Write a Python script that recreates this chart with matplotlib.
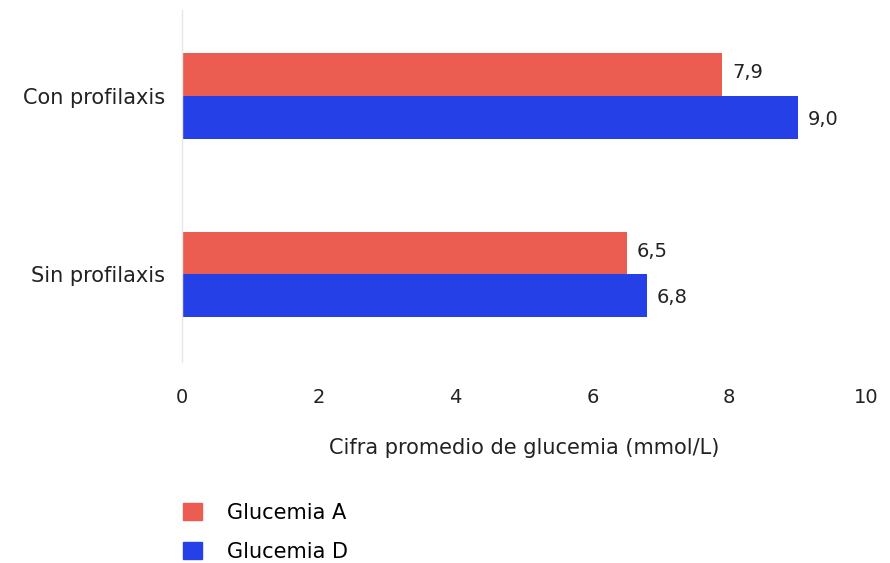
import numpy as np
import matplotlib
matplotlib.use("Agg")
import matplotlib.pyplot as plt
from matplotlib.patches import Patch

# Data
categories = ["Sin profilaxis", "Con profilaxis"]
glucemia_a = [6.5, 7.9]
glucemia_d = [6.8, 9.0]
series_names = ["Glucemia A", "Glucemia D"]
x_ticks = [0, 2, 4, 6, 8, 10]

color_a = "#EA5D50"
color_d = "#2640E8"
text_color = "#222222"

plt.rcParams["font.family"] = ["DejaVu Sans"]

fig = plt.figure(figsize=(8.9, 5.63), dpi=100)
ax = fig.add_axes([0.2045, 0.357, 0.7685, 0.625])

y = np.arange(len(categories))
h = 0.24
ax.barh(y + h / 2, glucemia_a, height=h, color=color_a)
ax.barh(y - h / 2, glucemia_d, height=h, color=color_d)

# value labels with comma decimal
for yi, va in zip(y, glucemia_a):
    ax.annotate(f"{va:.1f}".replace(".", ","), (va, yi + h / 2 + 0.01),
                xytext=(7, 0), textcoords="offset points",
                ha="left", va="center", fontsize=14, color=text_color)
for yi, vd in zip(y, glucemia_d):
    ax.annotate(f"{vd:.1f}".replace(".", ","), (vd, yi - h / 2 - 0.01),
                xytext=(7, 0), textcoords="offset points",
                ha="left", va="center", fontsize=14, color=text_color)

ax.set_xlim(0, 10)
ax.set_ylim(-0.49, 1.48)
ax.set_xticks(x_ticks)
ax.set_xticklabels([str(t) for t in x_ticks], fontsize=14, color=text_color)
ax.set_yticks(y)
ax.set_yticklabels(categories, fontsize=15, color=text_color)
ax.tick_params(axis="x", length=0, pad=19)
ax.tick_params(axis="y", length=0, pad=12)

for s in ["top", "right", "bottom"]:
    ax.spines[s].set_visible(False)
ax.spines["left"].set_color("#e6e6e6")
ax.spines["left"].set_linewidth(1)

ax.set_xlabel("Cifra promedio de glucemia (mmol/L)", fontsize=15,
              color=text_color, labelpad=22)

handles = [Patch(color=color_a), Patch(color=color_d)]
fig.legend(handles, series_names, loc="upper left",
           bbox_to_anchor=(0.2056, 0.107), frameon=False, fontsize=15,
           handlelength=0.9, handleheight=0.9, handletextpad=1.2,
           labelspacing=0.9, borderaxespad=0, borderpad=0)

fig.savefig("out.png", dpi=100)
